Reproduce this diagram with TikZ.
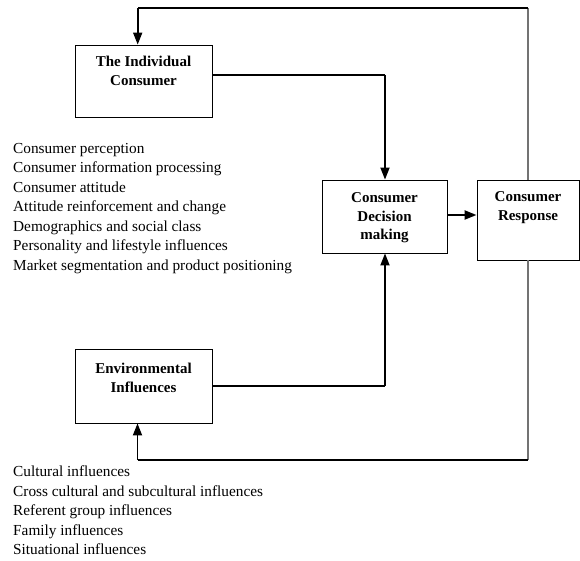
\documentclass[tikz,border=0pt]{standalone}
\usepackage{fontspec}
\setmainfont{Liberation Serif}
\usetikzlibrary{arrows.meta}

\begin{document}
\begin{tikzpicture}[x=1pt,y=-1pt,
  box/.style={draw=black, line width=0.9pt, rectangle, inner sep=0pt},
  boxtext/.style={font=\bfseries\fontsize{15}{18.5}\selectfont, align=center, anchor=base, inner sep=0pt},
  listtext/.style={font=\fontsize{15.3}{19.5}\selectfont, align=left, anchor=base west, inner sep=0pt},
  link/.style={line width=1.2pt, draw=black},
  arrowlink/.style={link, -{Triangle[length=12pt,width=9pt]}},
  feedback/.style={line width=1.5pt, draw=black!55}
]
\useasboundingbox (0,0) rectangle (580,561);

% boxes
\node[box, minimum width=137pt, minimum height=72pt] (ind) at (143.5,81) {};
\node[box, minimum width=125pt, minimum height=73pt] (dec) at (384.5,216.5) {};
\node[box, minimum width=102pt, minimum height=80pt] (resp) at (528,220) {};
\node[box, minimum width=137pt, minimum height=74pt] (env) at (143.5,386) {};

% box labels (anchored on the baseline of their last line)
\node[boxtext] (indlbl) at (143.5,85.5) {The Individual\\Consumer};
\node[boxtext] (declbl) at (384.5,240) {Consumer\\Decision\\making};
\node[boxtext] (resplbl) at (528,220) {Consumer\\Response};
\node[boxtext] (envlbl) at (143.5,392) {Environmental\\Influences};

% lists of topics
\node[listtext] (indlist) at (13,270) {Consumer perception\\Consumer information processing\\Consumer attitude\\Attitude reinforcement and change\\Demographics and social class\\Personality and lifestyle influences\\Market segmentation and product positioning};
\node[listtext] (envlist) at (13,554.5) {Cultural influences\\Cross cultural and subcultural influences\\Referent group influences\\Family influences\\Situational influences};

% connector turning points
\coordinate (topR) at (528,8);
\coordinate (topL) at (137.7,8);
\coordinate (botR) at (528,460);
\coordinate (botL) at (137.5,460);
\coordinate (indOut) at (212,75);
\coordinate (indTurn) at (385,75);
\coordinate (envTurn) at (385,386);

% individual and environment feed the decision
\draw[link] (ind.east |- indOut) -- (indTurn);
\draw[arrowlink, line width=1.8pt] (indTurn) -- (indTurn |- dec.north);
\draw[link] (env.east) -- (envTurn);
\draw[arrowlink, line width=1.8pt] (envTurn) -- (envTurn |- dec.south);

% decision leads to response
\draw[arrowlink, line width=2.2pt] (dec.east |- 0,215) -- (resp.west |- 0,215);

% feedback loops
\draw[feedback] (resp.north) -- (topR);
\draw[link] (topR) -- (topL);
\draw[arrowlink, line width=1.8pt] (topL) -- (topL |- ind.north);
\draw[feedback] (resp.south) -- (botR);
\draw[link] (botR) -- (botL);
\draw[arrowlink, line width=1.8pt] (botL) -- (botL |- env.south);
\end{tikzpicture}
\end{document}
